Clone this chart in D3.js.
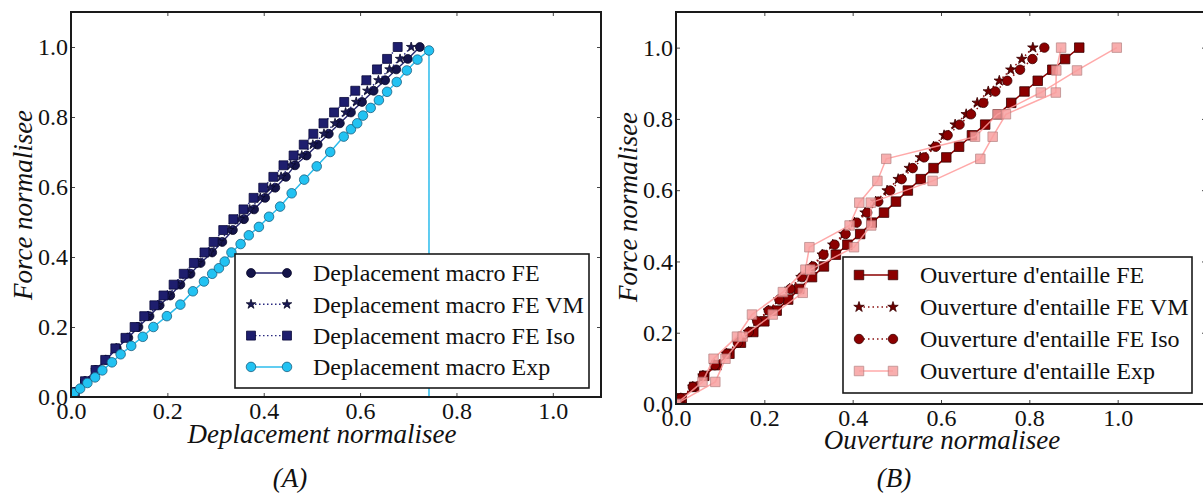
<!DOCTYPE html>
<html>
<head>
<meta charset="utf-8">
<script src="https://cdn.jsdelivr.net/npm/d3@7"></script>
<style>
body { margin: 0; background: #fff; }
text { font-family: "Liberation Serif", "DejaVu Serif", serif; }
</style>
</head>
<body>
<div id="chart"></div>
<script>
// tick values shared by both panels
var ticks = [0.0, 0.2, 0.4, 0.6, 0.8, 1.0];

// ---- panel (A) : force vs displacement ----
var dispY   = [0.014, 0.045, 0.077, 0.106, 0.139, 0.169, 0.2, 0.231, 0.262, 0.29, 0.321, 0.352, 0.383, 0.413, 0.443, 0.477, 0.508,
               0.536, 0.569, 0.598, 0.629, 0.662, 0.69, 0.721, 0.752, 0.782, 0.813, 0.843, 0.875, 0.905, 0.936, 0.966, 1.0];
var dispFE  = [0.008, 0.029, 0.051, 0.073, 0.095, 0.119, 0.14, 0.163, 0.184, 0.206, 0.227, 0.248, 0.269, 0.293, 0.314, 0.336, 0.359,
               0.38, 0.403, 0.424, 0.446, 0.465, 0.489, 0.512, 0.535, 0.558, 0.581, 0.604, 0.628, 0.652, 0.675, 0.699, 0.724];
var dispVM  = [0.008, 0.029, 0.051, 0.072, 0.094, 0.117, 0.137, 0.159, 0.18, 0.2, 0.221, 0.242, 0.263, 0.287, 0.307, 0.328, 0.35,
               0.371, 0.393, 0.414, 0.436, 0.456, 0.479, 0.502, 0.525, 0.548, 0.57, 0.592, 0.615, 0.638, 0.661, 0.683, 0.706];
var dispIso = [0.008, 0.029, 0.051, 0.071, 0.092, 0.113, 0.132, 0.152, 0.173, 0.192, 0.213, 0.234, 0.255, 0.277, 0.296, 0.316, 0.337,
               0.358, 0.379, 0.399, 0.42, 0.441, 0.462, 0.483, 0.503, 0.524, 0.546, 0.567, 0.59, 0.613, 0.635, 0.656, 0.678];
var dispExpX = [0.006, 0.019, 0.034, 0.05, 0.065, 0.085, 0.103, 0.125, 0.149, 0.171, 0.199, 0.227, 0.253, 0.276, 0.293, 0.307, 0.319,
                0.333, 0.352, 0.369, 0.39, 0.411, 0.434, 0.458, 0.484, 0.51, 0.538, 0.566, 0.581, 0.594, 0.606, 0.622, 0.639, 0.656,
                0.676, 0.697, 0.719, 0.743, 0.743];
var dispExpY = [0.011, 0.024, 0.04, 0.056, 0.076, 0.099, 0.122, 0.146, 0.172, 0.2, 0.231, 0.264, 0.302, 0.33, 0.352, 0.368, 0.387,
                0.413, 0.437, 0.462, 0.486, 0.515, 0.544, 0.582, 0.621, 0.659, 0.7, 0.744, 0.765, 0.782, 0.804, 0.826, 0.848, 0.872,
                0.9, 0.933, 0.964, 0.99, -0.02];

// ---- panel (B) : force vs notch opening ----
var openY   = [0.016, 0.048, 0.079, 0.109, 0.141, 0.172, 0.202, 0.232, 0.262, 0.293, 0.323, 0.356, 0.386, 0.419, 0.447, 0.477, 0.509,
               0.537, 0.568, 0.599, 0.631, 0.662, 0.692, 0.722, 0.754, 0.784, 0.813, 0.845, 0.877, 0.907, 0.938, 0.968, 1.0];
var openFE  = [0.013, 0.041, 0.064, 0.092, 0.121, 0.147, 0.175, 0.2, 0.228, 0.254, 0.279, 0.308, 0.335, 0.362, 0.388, 0.417, 0.443,
               0.471, 0.498, 0.525, 0.554, 0.583, 0.612, 0.641, 0.67, 0.7, 0.729, 0.759, 0.789, 0.819, 0.852, 0.881, 0.913];
var openVM  = [0.011, 0.038, 0.061, 0.087, 0.114, 0.139, 0.164, 0.183, 0.209, 0.232, 0.257, 0.283, 0.307, 0.331, 0.355, 0.38, 0.404,
               0.428, 0.452, 0.478, 0.503, 0.528, 0.553, 0.583, 0.607, 0.632, 0.657, 0.682, 0.707, 0.732, 0.758, 0.783, 0.808];
var openIso = [0.011, 0.038, 0.061, 0.088, 0.115, 0.14, 0.165, 0.184, 0.21, 0.234, 0.259, 0.285, 0.31, 0.334, 0.359, 0.384, 0.409,
               0.433, 0.458, 0.485, 0.511, 0.536, 0.562, 0.588, 0.615, 0.642, 0.668, 0.696, 0.723, 0.75, 0.779, 0.807, 0.834];
var openExpAX = [0.0, 0.06, 0.085, 0.138, 0.172, 0.242, 0.293, 0.302, 0.393, 0.415, 0.456, 0.476, 0.677, 0.728, 0.826, 0.908, 0.998];
var openExpAY = [0.0, 0.062, 0.127, 0.189, 0.251, 0.314, 0.377, 0.44, 0.501, 0.565, 0.626, 0.688, 0.75, 0.813, 0.874, 0.936, 1.0];
var openExpBX = [0.0, 0.089, 0.112, 0.151, 0.219, 0.287, 0.304, 0.403, 0.442, 0.441, 0.581, 0.689, 0.717, 0.747, 0.86, 0.861, 0.872];
var openExpBY = [0.0, 0.062, 0.127, 0.189, 0.251, 0.312, 0.377, 0.44, 0.501, 0.565, 0.626, 0.688, 0.75, 0.813, 0.874, 0.936, 1.0];

var legendA = ["Deplacement macro FE", "Deplacement macro FE VM", "Deplacement macro FE Iso", "Deplacement macro Exp"];
var legendB = ["Ouverture d'entaille FE", "Ouverture d'entaille FE VM", "Ouverture d'entaille FE Iso", "Ouverture d'entaille Exp"];

var serif = "Liberation Serif, DejaVu Serif, serif";

var svg = d3.select("#chart")
            .append("svg")
            .attr("width", 1203)
            .attr("height", 493);

var fmt = d3.format(".1f");

function zip(xs, ys) {
  return xs.map(function(v, i) { return [v, ys[i]]; });
}

function drawSeries(g, x, y, pts, st) {
  var line = d3.line().x(function(d) { return x(d[0]); }).y(function(d) { return y(d[1]); });
  g.append("path")
   .datum(pts)
   .attr("d", line)
   .attr("fill", "none")
   .attr("stroke", st.line)
   .attr("stroke-width", st.lw)
   .attr("stroke-dasharray", st.dash || null)
   .attr("opacity", st.lineOpacity || 1);
  var sym = d3.symbol().type(st.shape).size(st.size);
  g.selectAll(null)
   .data(pts)
   .enter().append("path")
   .attr("d", sym)
   .attr("transform", function(d) { return "translate(" + x(d[0]) + "," + y(d[1]) + ")"; })
   .attr("fill", st.fill)
   .attr("stroke", st.edge)
   .attr("stroke-width", 0.8)
   .attr("opacity", st.opacity || 1);
}

function drawPanel(cfg) {
  var w = cfg.x1 - cfg.x0, h = cfg.y0 - cfg.y1;
  var g = svg.append("g").attr("transform", "translate(" + cfg.x0 + "," + cfg.y1 + ")");
  var x = d3.scaleLinear().domain([0, cfg.xMax]).range([0, w]);
  var y = d3.scaleLinear().domain([0, cfg.yMax]).range([h, 0]);

  g.append("clipPath").attr("id", cfg.id + "clip")
   .append("rect").attr("width", w).attr("height", h);
  var plot = g.append("g").attr("clip-path", "url(#" + cfg.id + "clip)");
  cfg.series.forEach(function(s) { drawSeries(plot, x, y, s.pts, s.style); });

  // axes, ticks pointing inward on all four sides
  var bottom = g.append("g").attr("transform", "translate(0," + h + ")")
    .call(d3.axisBottom(x).tickValues(ticks).tickFormat(fmt).tickSize(-4).tickPadding(5));
  var left = g.append("g")
    .call(d3.axisLeft(y).tickValues(ticks).tickFormat(fmt).tickSize(-4).tickPadding(3));
  var top = g.append("g")
    .call(d3.axisTop(x).tickValues(ticks).tickFormat("").tickSize(-4));
  var right = g.append("g").attr("transform", "translate(" + w + ",0)")
    .call(d3.axisRight(y).tickValues(ticks).tickFormat("").tickSize(-4));
  [bottom, left, top, right].forEach(function(a) {
    a.attr("font-family", serif);
    a.select(".domain").remove();
    a.selectAll("line").attr("stroke", "#444");
    a.selectAll("text").attr("font-size", "24px").attr("fill", "#111");
  });

  g.append("rect").attr("width", w).attr("height", h)
   .attr("fill", "none").attr("stroke", "#1a1a1a").attr("stroke-width", 2);

  // legend
  var lg = svg.append("g");
  lg.append("rect")
    .attr("x", cfg.legend.x).attr("y", cfg.legend.y)
    .attr("width", cfg.legend.w).attr("height", cfg.legend.h)
    .attr("fill", "#fff").attr("stroke", "#1a1a1a").attr("stroke-width", 1.6);
  var lx = d3.scaleLinear().domain([0, 1]).range([cfg.legend.s0, cfg.legend.s1]);
  cfg.series.forEach(function(s, i) {
    if (s.noLegend) return;
    var ry = cfg.legend.row0 + i * cfg.legend.dy;
    var ly = function() { return ry; };
    drawSeries(lg, lx, ly, [[0, 0], [1, 0]], s.legendStyle || s.style);
    lg.append("text")
      .attr("x", cfg.legend.tx).attr("y", ry)
      .attr("dy", "0.35em")
      .attr("font-family", serif)
      .attr("font-size", "24px").attr("fill", "#111")
      .text(cfg.labels[i]);
  });

  // axis titles
  svg.append("text")
     .attr("x", cfg.xlab.x).attr("y", cfg.xlab.y)
     .attr("text-anchor", "middle")
     .attr("font-family", serif)
     .attr("font-size", "27px").attr("font-style", "italic").attr("fill", "#111")
     .text(cfg.xlab.text);
  svg.append("text")
     .attr("transform", "translate(" + cfg.ylab.x + "," + cfg.ylab.y + ") rotate(-90)")
     .attr("text-anchor", "middle")
     .attr("font-family", serif)
     .attr("font-size", "27px").attr("font-style", "italic").attr("fill", "#111")
     .text("Force normalisee");
  svg.append("text")
     .attr("x", cfg.tag.x).attr("y", cfg.tag.y)
     .attr("text-anchor", "middle")
     .attr("font-family", serif)
     .attr("font-size", "27px").attr("font-style", "italic").attr("fill", "#111")
     .text(cfg.tag.text);
}

var blueFE  = { line: "#26266e", lw: 1.4, shape: d3.symbolCircle, size: 62, fill: "#14144a", edge: "#0a0a2a" };
var blueVM  = { line: "#2a2a80", lw: 1.4, dash: "1.5,2.5", shape: d3.symbolStar, size: 28, fill: "#1a1a55", edge: "#0a0a2a" };
var blueIso = { line: "#2a2a80", lw: 1.4, dash: "1.5,2.5", shape: d3.symbolSquare, size: 80, fill: "#1e1e6e", edge: "#0a0a3a" };
var blueExp = { line: "#2cbcec", lw: 1.5, shape: d3.symbolCircle, size: 72, fill: "#22c2f2", edge: "#1d5f80" };

drawPanel({
  id: "a", x0: 71, x1: 601, y0: 397, y1: 12, xMax: 1.1, yMax: 1.1,
  series: [
    { pts: zip(dispFE, dispY), style: blueFE },
    { pts: zip(dispVM, dispY), style: blueVM },
    { pts: zip(dispIso, dispY), style: blueIso },
    { pts: zip(dispExpX, dispExpY), style: blueExp }
  ],
  labels: legendA,
  legend: { x: 235, y: 254, w: 354, h: 134, s0: 251, s1: 287, tx: 313, row0: 273, dy: 31.3 },
  xlab: { x: 322, y: 443, text: "Deplacement normalisee" },
  ylab: { x: 32, y: 205 },
  tag: { x: 290, y: 487, text: "(A)" }
});

var redFE  = { line: "#8b0000", lw: 1.5, shape: d3.symbolSquare, size: 90, fill: "#8b0000", edge: "#3a0000" };
var redVM  = { line: "#8b1010", lw: 1.5, dash: "1.5,3", shape: d3.symbolStar, size: 34, fill: "#6e0000", edge: "#3a0000" };
var redIso = { line: "#8b1010", lw: 1.5, dash: "1.5,3", shape: d3.symbolCircle, size: 70, fill: "#8b0000", edge: "#3a0000" };
var redExp = { line: "#ff9a9a", lw: 1.5, lineOpacity: 0.85, shape: d3.symbolSquare, size: 90, fill: "#f7a0a0", edge: "#b07878", opacity: 0.85 };

drawPanel({
  id: "b", x0: 676, x1: 1206, y0: 404, y1: 12, xMax: 1.2, yMax: 1.1,
  series: [
    { pts: zip(openFE, openY), style: redFE },
    { pts: zip(openVM, openY), style: redVM },
    { pts: zip(openIso, openY), style: redIso },
    { pts: zip(openExpAX, openExpAY), style: redExp },
    { pts: zip(openExpBX, openExpBY), style: redExp, noLegend: true }
  ],
  labels: legendB,
  legend: { x: 843, y: 257, w: 349, h: 136, s0: 859, s1: 893, tx: 920, row0: 275, dy: 32 },
  xlab: { x: 942, y: 449, text: "Ouverture normalisee" },
  ylab: { x: 637, y: 207 },
  tag: { x: 894, y: 487, text: "(B)" }
});
</script>
</body>
</html>
